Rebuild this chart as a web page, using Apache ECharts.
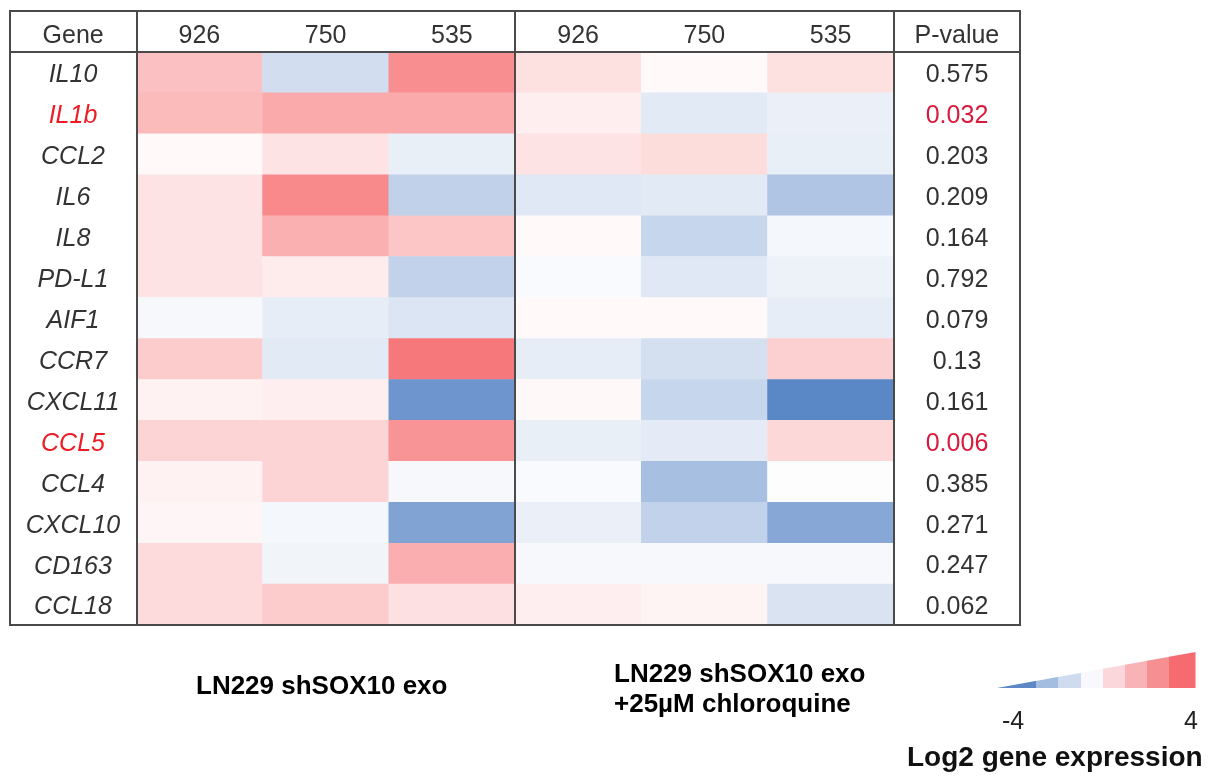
<!DOCTYPE html>
<html>
<head>
<meta charset="utf-8">
<script src="https://cdn.jsdelivr.net/npm/echarts@6/dist/echarts.min.js"></script>
<style>
html,body{margin:0;padding:0;background:#fff;}
#chart{width:1213px;height:776px;}
</style>
</head>
<body>
<div id="chart"></div>
<script>
// ---------- data ----------
var genes = ['IL10','IL1b','CCL2','IL6','IL8','PD-L1','AIF1','CCR7','CXCL11','CCL5','CCL4','CXCL10','CD163','CCL18'];
var headerLabels = ['Gene','926','750','535','926','750','535','P-value'];
var pValues = ['0.575','0.032','0.203','0.209','0.164','0.792','0.079','0.13','0.161','0.006','0.385','0.271','0.247','0.062'];
var significantGenes = ['IL1b','CCL5'];
// log2 expression, columns 926 / 750 / 535
var exoValues = [
  [1.7, -1.0, 3.05],
  [1.85, 2.3, 2.3],
  [0.15, 0.75, -0.5],
  [0.75, 3.15, -1.4],
  [0.75, 2.15, 1.55],
  [0.75, 0.55, -1.35],
  [-0.2, -0.55, -0.8],
  [1.4, -0.65, 3.65],
  [0.35, 0.45, -3.2],
  [1.15, 1.15, 2.9],
  [0.35, 1.15, -0.2],
  [0.25, -0.25, -2.8],
  [1.0, -0.3, 2.2],
  [1.0, 1.4, 0.8]
];
var chloroquineValues = [
  [0.85, 0.15, 0.85],
  [0.45, -0.65, -0.45],
  [0.75, 0.95, -0.5],
  [-0.7, -0.65, -1.75],
  [0.15, -1.25, -0.25],
  [-0.15, -0.7, -0.4],
  [0.15, 0.15, -0.55],
  [-0.55, -0.95, 1.3],
  [0.2, -1.25, -3.65],
  [-0.5, -0.6, 1.05],
  [-0.15, -1.95, -0.05],
  [-0.45, -1.35, -2.65],
  [-0.2, -0.2, -0.2],
  [0.45, 0.3, -0.85]
];
var groupLabels = ['LN229 shSOX10 exo', 'LN229 shSOX10 exo\n+25\u00b5M chloroquine'];
var legendMin = -4, legendMax = 4;
var legendTitle = 'Log2 gene expression';

// ---------- build ----------
var rowCats = [''].concat(genes);
var colCats = headerLabels.map(function (l, i) { return 'c' + i; });
var cells = [];
genes.forEach(function (g, r) {
  exoValues[r].forEach(function (v, c) { cells.push([1 + c, 1 + r, v]); });
  chloroquineValues[r].forEach(function (v, c) { cells.push([4 + c, 1 + r, v]); });
});

var FONT = '"Liberation Sans", Arial, sans-serif';
var lineColor = '#4a4a4a';
var textColor = '#333333';

// legend geometry (decoration)
var legendColors = ['#5d88c5','#a3bde0','#cfdcef','#f8f8fd','#fbd6da','#f8b3b6','#f68f92','#f56b6f'];
var legX = [997, 1036, 1058, 1081, 1103, 1125, 1147, 1169, 1195];
var legBottom = 688, legH = 36;
var legendGraphics = [];
function hAt(x) { return legH * (x - legX[0]) / (legX[legX.length - 1] - legX[0]); }
for (var i = 0; i < legendColors.length; i++) {
  var x0 = legX[i], x1 = legX[i + 1] + 0.5;
  legendGraphics.push({
    type: 'polygon',
    shape: { points: [[x0, legBottom], [x1, legBottom], [x1, legBottom - hAt(x1)], [x0, legBottom - hAt(x0)]] },
    style: { fill: legendColors[i] },
    silent: true
  });
}

var option = {
  backgroundColor: '#ffffff',
  animation: false,
  grid: {
    left: 10, right: 193, top: 11, bottom: 151,
    show: true, borderColor: lineColor, borderWidth: 2, backgroundColor: 'transparent',
    z: 10
  },
  xAxis: {
    type: 'category',
    position: 'top',
    data: colCats,
    axisLine: { show: false },
    axisTick: { show: false },
    axisLabel: {
      inside: true, interval: 0, margin: 25, verticalAlign: 'middle',
      fontFamily: FONT, fontSize: 25, color: textColor,
      formatter: function (v, idx) { return headerLabels[idx]; }
    },
    splitLine: {
      show: true,
      interval: function (idx) { return idx === 1 || idx === 4 || idx === 7; },
      lineStyle: { color: lineColor, width: 2 }
    },
    z: 10
  },
  yAxis: [{
    type: 'category',
    inverse: true,
    data: rowCats,
    axisLine: { show: false },
    axisTick: { show: false },
    axisLabel: {
      inside: true, interval: 0, margin: 63, align: 'center',
      fontFamily: FONT, fontSize: 25, color: textColor, fontStyle: 'italic',
      formatter: function (v) {
        if (!v) return '';
        return significantGenes.indexOf(v) >= 0 ? '{s|' + v + '}' : '{n|' + v + '}';
      },
      rich: {
        n: { fontFamily: FONT, fontSize: 25, color: textColor, fontStyle: 'italic', padding: [6, 0, 0, 0] },
        s: { fontFamily: FONT, fontSize: 25, color: '#ee1c25', fontStyle: 'italic', padding: [6, 0, 0, 0] }
      }
    },
    splitLine: {
      show: true,
      interval: function (idx) { return idx === 0 || idx === 1; },
      lineStyle: { color: lineColor, width: 2 }
    },
    z: 10
  }, {
    type: 'category',
    inverse: true,
    position: 'right',
    data: rowCats,
    axisLine: { show: false },
    axisTick: { show: false },
    splitLine: { show: false },
    axisLabel: {
      inside: true, interval: 0, margin: 63, align: 'center',
      fontFamily: FONT, fontSize: 25, color: textColor,
      formatter: function (v, idx) {
        if (!v) return '';
        var g = genes.indexOf(v);
        var p = pValues[g];
        return parseFloat(p) < 0.05 ? '{s|' + p + '}' : '{n|' + p + '}';
      },
      rich: {
        n: { fontFamily: FONT, fontSize: 25, color: textColor, padding: [6, 0, 0, 0] },
        s: { fontFamily: FONT, fontSize: 25, color: '#d91a3c', padding: [6, 0, 0, 0] }
      }
    },
    z: 10
  }],
  visualMap: {
    type: 'continuous',
    show: false,
    min: legendMin, max: legendMax,
    dimension: 2,
    seriesIndex: 0,
    inRange: { color: ['#4a7bc1', '#ffffff', '#f66b6d'] }
  },
  series: [{
    type: 'heatmap',
    xAxisIndex: 0, yAxisIndex: 0,
    data: cells,
    itemStyle: { borderWidth: 0 },
    emphasis: { disabled: true },
    z: 2
  }],
  graphic: legendGraphics.concat([
    { type: 'text', left: 196, top: 674, style: { text: groupLabels[0], font: 'bold 26px ' + FONT, fill: '#000' } },
    { type: 'text', left: 614, top: 660, style: { text: groupLabels[1], font: 'bold 26px ' + FONT, fill: '#000', lineHeight: 30 } },
    { type: 'text', x: 1013, y: 722, style: { text: String(legendMin), font: '25px ' + FONT, fill: '#222', align: 'center', verticalAlign: 'middle' } },
    { type: 'text', x: 1191, y: 722, style: { text: String(legendMax), font: '25px ' + FONT, fill: '#222', align: 'center', verticalAlign: 'middle' } },
    { type: 'text', x: 907, y: 758, style: { text: legendTitle, font: 'bold 28px ' + FONT, fill: '#111', verticalAlign: 'middle' } }
  ])
};

var chart = echarts.init(document.getElementById('chart'), null, { renderer: 'canvas' });
chart.setOption(option);
</script>
</body>
</html>
